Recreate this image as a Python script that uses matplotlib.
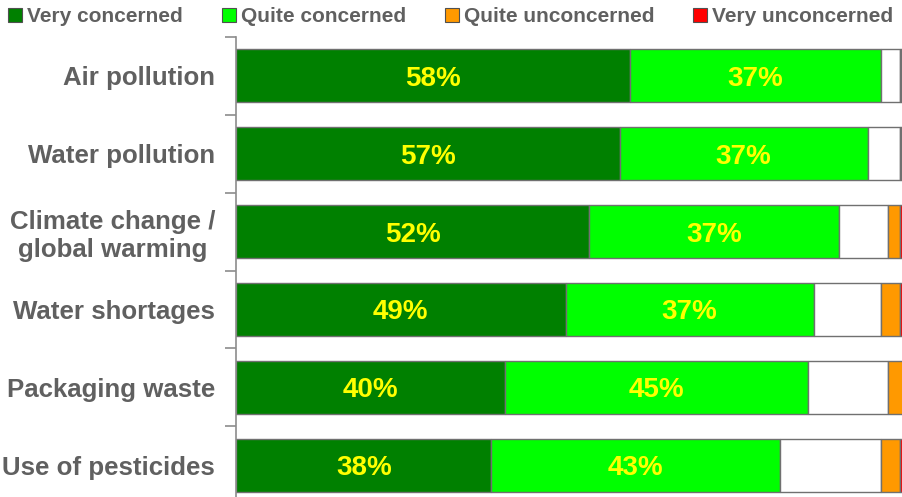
import numpy as np
import matplotlib
matplotlib.use("Agg")
import matplotlib.pyplot as plt
from matplotlib.patches import Patch

plt.rcParams['font.family'] = ['Liberation Sans', 'DejaVu Sans']
plt.rcParams['font.weight'] = 'bold'

# data (percent of respondents)
categories = ['Air pollution', 'Water pollution', 'Climate change /\nglobal warming',
              'Water shortages', 'Packaging waste', 'Use of pesticides']
very_concerned = [58.4, 56.9, 52.4, 48.9, 39.9, 37.9]
quite_concerned = [37.3, 36.8, 37.1, 36.8, 44.9, 42.8]
neutral = [2.8, 4.8, 7.2, 10.0, 11.9, 15.0]
quite_unconcerned = [0.2, 0.2, 1.8, 2.8, 2.5, 2.8]
very_unconcerned = [1.3, 1.3, 1.5, 1.5, 0.8, 1.5]
vc_labels = ['58%', '57%', '52%', '49%', '40%', '38%']
qc_labels = ['37%', '37%', '37%', '37%', '45%', '43%']

legend_labels = ['Very concerned', 'Quite concerned', 'Quite unconcerned', 'Very unconcerned']
colors = ['#008000', '#00ff00', '#ffffff', '#ff9900', '#ff0000']
edge = '#707070'
text_grey = '#606060'

fig = plt.figure(figsize=(9.03, 4.97), dpi=100)
ax = fig.add_axes([236 / 903, 1 - 504 / 497, 674 / 903, 467 / 497])

y = np.arange(len(categories))
series = [very_concerned, quite_concerned, neutral, quite_unconcerned, very_unconcerned]
left = np.zeros(len(categories))
containers = []
for vals, c in zip(series, colors):
    vals = np.array(vals)
    bars = ax.barh(y, vals, left=left, height=0.68, color=c, edgecolor=edge, linewidth=1)
    containers.append(bars)
    left += vals

# percentage labels inside the two green segments
for bars, labs in [(containers[0], vc_labels), (containers[1], qc_labels)]:
    for bar, lab in zip(bars, labs):
        ax.text(bar.get_x() + bar.get_width() / 2, bar.get_y() + bar.get_height() / 2,
                lab, ha='center', va='center_baseline', color='#ffff00',
                fontsize=20, fontweight='bold')

ax.set_xlim(0, 100)
ax.set_ylim(len(categories) - 0.5, -0.5)
ax.set_yticks(y)
ax.set_yticklabels(categories, fontsize=18.6, fontweight='bold', color=text_grey,
                   multialignment='center')
ax.tick_params(axis='y', which='major', length=0, pad=15)
ax.set_yticks(np.arange(-0.5, len(categories), 1), minor=True)
ax.tick_params(axis='y', which='minor', length=8, width=1.2, color='#8c8c8c', direction='out')
ax.set_xticks([])
for s in ['top', 'right', 'bottom']:
    ax.spines[s].set_visible(False)
ax.spines['left'].set_color('#8c8c8c')
ax.spines['left'].set_linewidth(1.2)

handles = [Patch(facecolor=colors[i], edgecolor='#505050', linewidth=0.8) for i in [0, 1, 3, 4]]
fig.legend(handles, legend_labels, loc='center left', bbox_to_anchor=(8 / 903, 1 - 17 / 497),
           ncol=4, frameon=False, borderpad=0, borderaxespad=0,
           handlelength=0.68, handleheight=0.68, handletextpad=0.25, columnspacing=1.85,
           prop={'size': 15, 'weight': 'bold'}, labelcolor=text_grey)

fig.savefig('out.png', dpi=100)
